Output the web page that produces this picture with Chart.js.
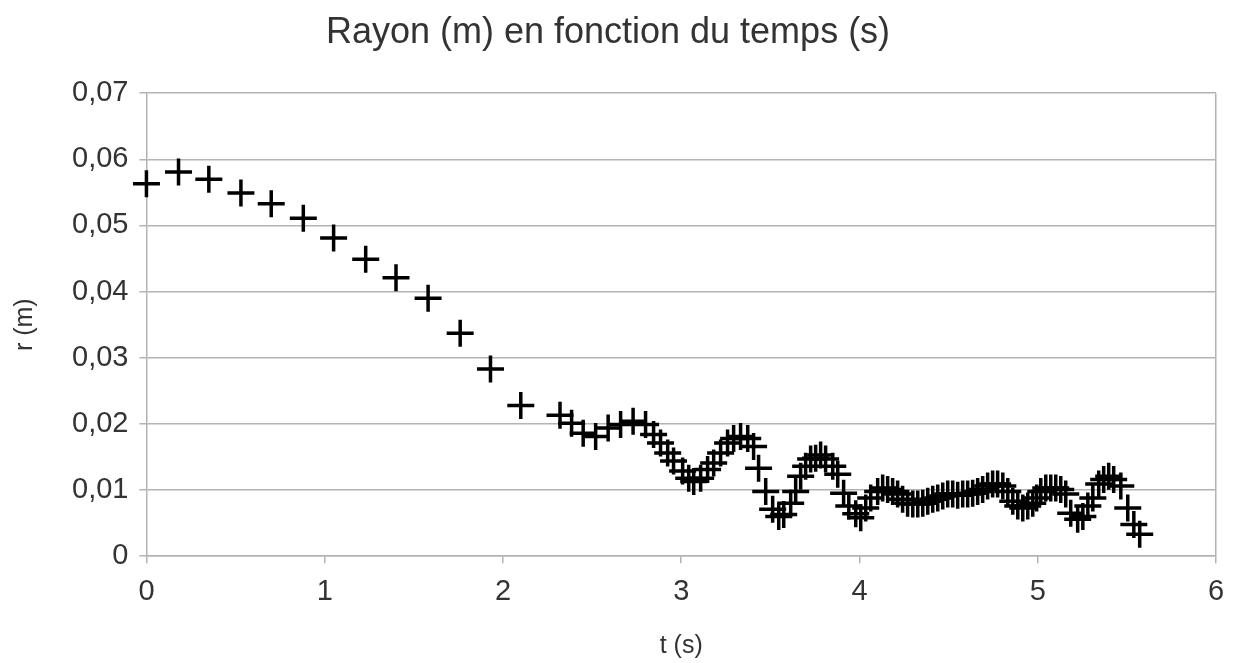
<!DOCTYPE html>
<html lang="fr">
<head>
    <meta charset="UTF-8">
    <title>Rayon (m) en fonction du temps (s)</title>
    <script src="https://cdn.jsdelivr.net/npm/chart.js"></script>
    <style>
        body {
            margin: 0;
            padding: 0;
            background: #fff;
        }
        #wrap {
            width: 1236px;
            height: 663px;
        }
    </style>
</head>
<body>
    <div id="wrap">
        <canvas id="rayonChart" width="1236" height="663"></canvas>
    </div>

    <script>
        // mesures : temps (s) et rayon (m)
        const temps = [
            0, 0.18, 0.35, 0.53, 0.70, 0.88, 1.05, 1.23, 1.40, 1.58, 1.76, 1.93, 2.10,
            2.32, 2.385, 2.45, 2.52, 2.59, 2.66, 2.73, 2.80, 2.845, 2.884, 2.924, 2.957,
            3.008, 3.042, 3.07, 3.109, 3.148, 3.182, 3.221, 3.26, 3.294, 3.333, 3.373,
            3.406, 3.434, 3.474, 3.513, 3.547, 3.575, 3.614, 3.642, 3.67, 3.698, 3.726,
            3.754, 3.782, 3.81, 3.85, 3.878, 3.911, 3.94, 3.979, 4.007, 4.035, 4.063,
            4.102, 4.13, 4.158, 4.186, 4.214, 4.242, 4.27, 4.299, 4.327, 4.355, 4.383,
            4.411, 4.439, 4.467, 4.495, 4.523, 4.551, 4.579, 4.607, 4.635, 4.663, 4.691,
            4.719, 4.747, 4.775, 4.804, 4.832, 4.86, 4.888, 4.916, 4.944, 4.972, 4.994,
            5.017, 5.045, 5.073, 5.101, 5.129, 5.157, 5.185, 5.224, 5.253, 5.281, 5.309,
            5.342, 5.37, 5.398, 5.426, 5.466, 5.505, 5.539, 5.572
        ];
        const rayon = [
            0.0563, 0.0581, 0.0570, 0.0549, 0.0533, 0.0511, 0.0481, 0.0449, 0.0421, 0.0390, 0.0337, 0.0283, 0.0228,
            0.0213, 0.0201, 0.0186, 0.0181, 0.0194, 0.0199, 0.0204, 0.0199, 0.0184, 0.0171, 0.0156, 0.0144,
            0.0129, 0.0118, 0.0113, 0.0118, 0.0131, 0.0141, 0.0156, 0.0171, 0.0178, 0.0181, 0.0178,
            0.0166, 0.0133, 0.0098, 0.0071, 0.0060, 0.0063, 0.0080, 0.0098, 0.0121, 0.0136, 0.0147,
            0.0148, 0.0153, 0.0147, 0.0136, 0.0124, 0.0095, 0.0076, 0.0064, 0.0058, 0.0073, 0.0088,
            0.0098, 0.0103, 0.0101, 0.0098, 0.0094, 0.0086, 0.0080, 0.0079, 0.0079, 0.0080, 0.0083,
            0.0086, 0.0088, 0.0091, 0.0094, 0.0094, 0.0092, 0.0094, 0.0094, 0.0095, 0.0098, 0.0101,
            0.0106, 0.0109, 0.0109, 0.0106, 0.0098, 0.0083, 0.0076, 0.0073, 0.0076, 0.0080, 0.0088,
            0.0098, 0.0103, 0.0103, 0.0103, 0.0101, 0.0094, 0.0065, 0.0056, 0.0060, 0.0076, 0.0088,
            0.0109, 0.0116, 0.0121, 0.0116, 0.0106, 0.0073, 0.0048, 0.0033
        ];
        const xTicks = ['0', '1', '2', '3', '4', '5', '6'];
        const yTicks = ['0', '0,01', '0,02', '0,03', '0,04', '0,05', '0,06', '0,07'];

        const points = temps.map((t, i) => ({ x: t, y: rayon[i] }));
        const gridGray = '#b3b3b3';
        const textGray = '#333333';
        const font = 'Liberation Sans, Arial, sans-serif';

        const ctx = document.getElementById('rayonChart').getContext('2d');
        new Chart(ctx, {
            type: 'scatter',
            data: {
                datasets: [{
                    label: 'r (m)',
                    data: points,
                    pointStyle: 'cross',
                    pointRadius: 13.5,
                    pointHoverRadius: 13.5,
                    borderWidth: 3.5,
                    borderColor: '#000',
                    backgroundColor: '#000',
                    clip: false
                }]
            },
            options: {
                responsive: false,
                animation: false,
                layout: {
                    padding: { left: 0, right: 20, top: 0, bottom: 0 }
                },
                plugins: {
                    legend: { display: false },
                    tooltip: { enabled: false },
                    title: {
                        display: true,
                        text: 'Rayon (m) en fonction du temps (s)',
                        color: textGray,
                        font: { family: font, size: 36, weight: 'normal' },
                        padding: { top: 11, bottom: 39 }
                    }
                },
                scales: {
                    x: {
                        type: 'linear',
                        min: 0,
                        max: 6,
                        ticks: {
                            stepSize: 1,
                            color: textGray,
                            padding: 11,
                            font: { family: font, size: 29 },
                            callback: (v, i) => xTicks[i]
                        },
                        grid: {
                            color: c => (c.tick && c.tick.value === 6) ? gridGray : 'rgba(0,0,0,0)',
                            tickColor: gridGray,
                            tickLength: 7,
                            lineWidth: 1.5
                        },
                        border: { color: gridGray, width: 1.5 },
                        title: {
                            display: true,
                            text: 't (s)',
                            color: textGray,
                            font: { family: font, size: 25 },
                            padding: { top: 11, bottom: 2 }
                        }
                    },
                    y: {
                        min: 0,
                        max: 0.07,
                        ticks: {
                            stepSize: 0.01,
                            color: textGray,
                            padding: 11,
                            font: { family: font, size: 29 },
                            callback: (v, i) => yTicks[i]
                        },
                        grid: {
                            color: gridGray,
                            tickColor: gridGray,
                            tickLength: 7,
                            lineWidth: 1.5
                        },
                        border: { color: gridGray, width: 1.5 },
                        title: {
                            display: true,
                            text: 'r (m)',
                            color: textGray,
                            font: { family: font, size: 25 },
                            padding: { top: 10, bottom: 21 }
                        }
                    }
                }
            }
        });
    </script>
</body>
</html>
